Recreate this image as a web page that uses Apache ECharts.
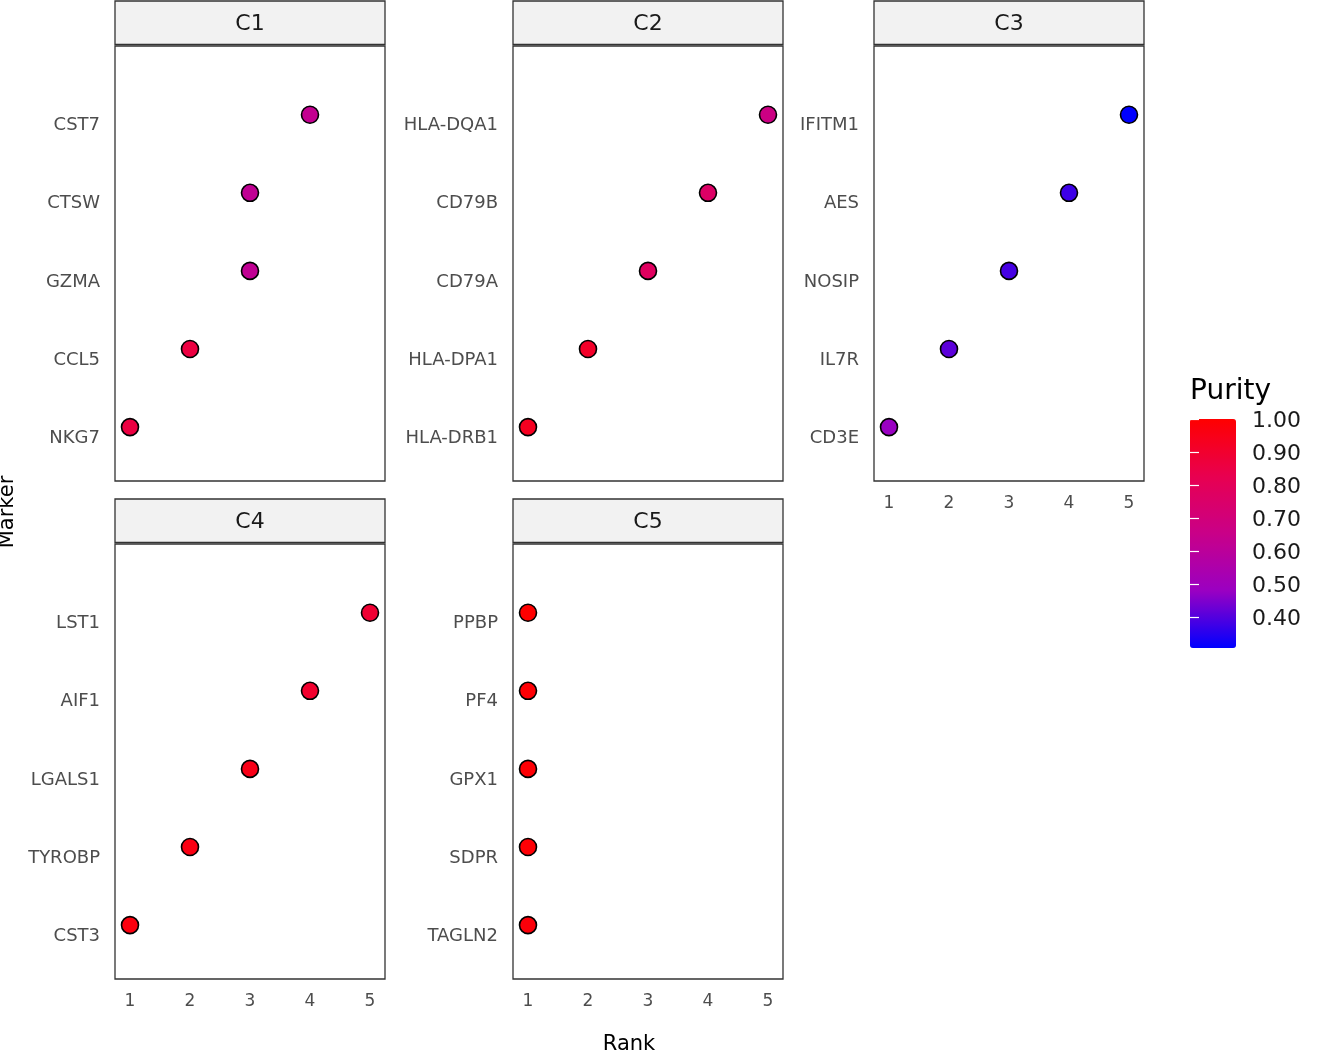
<!DOCTYPE html>
<html><head><meta charset="utf-8">
<script src="https://cdn.jsdelivr.net/npm/echarts@6/dist/echarts.min.js"></script>
<style>html,body{margin:0;padding:0;background:#fff}#c{width:1344px;height:1056px}</style>
</head><body><div id="c"></div><script>
// ---- data (bottom-to-top order within each panel) ----
const clusters = ['C1', 'C2', 'C3', 'C4', 'C5'];
const markersC1 = ['NKG7', 'CCL5', 'GZMA', 'CTSW', 'CST7'];
const rankC1 = [1, 2, 3, 3, 4];
const purityC1 = [0.86, 0.86, 0.62, 0.62, 0.63];
const markersC2 = ['HLA-DRB1', 'HLA-DPA1', 'CD79A', 'CD79B', 'HLA-DQA1'];
const rankC2 = [1, 2, 3, 4, 5];
const purityC2 = [0.93, 0.91, 0.78, 0.76, 0.67];
const markersC3 = ['CD3E', 'IL7R', 'NOSIP', 'AES', 'IFITM1'];
const rankC3 = [1, 2, 3, 4, 5];
const purityC3 = [0.48, 0.41, 0.385, 0.375, 0.306];
const markersC4 = ['CST3', 'TYROBP', 'LGALS1', 'AIF1', 'LST1'];
const rankC4 = [1, 2, 3, 4, 5];
const purityC4 = [0.97, 0.96, 0.95, 0.90, 0.89];
const markersC5 = ['TAGLN2', 'SDPR', 'GPX1', 'PF4', 'PPBP'];
const rankC5 = [1, 1, 1, 1, 1];
const purityC5 = [0.98, 0.99, 0.99, 0.99, 1.00];
const rankTicks = [1, 2, 3, 4, 5];
const legendTicks = [0.40, 0.50, 0.60, 0.70, 0.80, 0.90, 1.00];
const legendTitle = 'Purity';
const xTitle = 'Rank';
const yTitle = 'Marker';

const markers = [markersC1, markersC2, markersC3, markersC4, markersC5];
const ranks = [rankC1, rankC2, rankC3, rankC4, rankC5];
const purities = [purityC1, purityC2, purityC3, purityC4, purityC5];
const allP = [].concat(...purities);
const pMin = Math.min(...allP), pMax = Math.max(...allP);

// ---- layout ----
const FONT = 'DejaVu Sans';
const panelLeft = [115, 513, 874, 115, 513];
const panelTop = [46, 46, 46, 544, 544];
const panelW = 270, panelH = 435, stripH = 43.5, stripGap = 1.5;
const showX = [false, false, true, true, true];
const gradColors = ['#0000FF', '#9A00C2', '#C90088', '#E80050', '#FF0000'];

const grids = [], xAxes = [], yAxes = [], series = [], graphics = [];
clusters.forEach((c, i) => {
  grids.push({left: panelLeft[i], top: panelTop[i], width: panelW, height: panelH,
    show: true, borderColor: '#333333', borderWidth: 1.3, backgroundColor: '#fff',
    containLabel: false, outerBoundsMode: 'none'});
  xAxes.push({type: 'value', gridIndex: i, min: 0.75, max: 5.25,
    axisLine: {show: false}, axisTick: {show: false}, splitLine: {show: false},
    axisLabel: {show: showX[i], customValues: rankTicks, margin: 14,
      color: '#4D4D4D', fontSize: 17, fontFamily: FONT}});
  const mk = markers[i];
  yAxes.push({type: 'value', gridIndex: i, min: -0.69, max: 4.88,
    axisLine: {show: false}, axisTick: {show: false}, splitLine: {show: false},
    axisLabel: {show: true, customValues: [0, 1, 2, 3, 4], margin: 15,
      color: '#4D4D4D', fontSize: 18, fontFamily: FONT, verticalAlign: 'top', lineHeight: 22,
      formatter: v => mk[Math.round(v)] || ''}});
  series.push({type: 'scatter', xAxisIndex: i, yAxisIndex: i,
    symbolSize: 17, itemStyle: {borderColor: '#000', borderWidth: 1.6, opacity: 1},
    emphasis: {disabled: true},
    data: ranks[i].map((r, k) => [r, k, purities[i][k]])});
  graphics.push({type: 'rect', shape: {x: panelLeft[i], y: panelTop[i] - stripGap - stripH, width: panelW, height: stripH},
    style: {fill: '#F2F2F2', stroke: '#333333', lineWidth: 1.3}});
  graphics.push({type: 'text', x: panelLeft[i] + panelW / 2, y: panelTop[i] - stripGap - stripH / 2 + 1.5,
    style: {text: c, fill: '#1A1A1A', font: '22px "' + FONT + '"', textAlign: 'center', textVerticalAlign: 'middle'}});
});

// legend colourbar axes
const LG = {left: 1190, top: 419, width: 46, height: 229};
const li = clusters.length;
grids.push({left: LG.left, top: LG.top, width: LG.width, height: LG.height, show: false, containLabel: false, outerBoundsMode: 'none', z: 10});
xAxes.push({type: 'value', gridIndex: li, show: false, min: 0, max: 1});
yAxes.push({type: 'value', gridIndex: li, min: pMin, max: pMax, position: 'right', z: 10,
  axisLine: {show: false}, splitLine: {show: false},
  axisTick: {show: true, inside: true, length: 9, customValues: legendTicks, lineStyle: {color: '#ffffff', width: 1.2}},
  axisLabel: {customValues: legendTicks, margin: 16, color: '#1A1A1A', fontSize: 22, fontFamily: FONT,
    verticalAlign: 'top', lineHeight: 4, formatter: v => v.toFixed(2)}});
yAxes.push({type: 'value', gridIndex: li, min: pMin, max: pMax, position: 'left', z: 10,
  axisLine: {show: false}, splitLine: {show: false},
  axisTick: {show: true, inside: true, length: 9, customValues: legendTicks, lineStyle: {color: '#ffffff', width: 1.2}},
  axisLabel: {show: false}});

graphics.push({type: 'text', x: 1190, y: 392, style: {text: legendTitle, fill: '#000', font: '28px "' + FONT + '"', textAlign: 'left', textVerticalAlign: 'middle'}});
graphics.push({type: 'text', x: 629, y: 1045, style: {text: xTitle, fill: '#000', font: '21px "' + FONT + '"', textAlign: 'center', textVerticalAlign: 'middle'}});
graphics.push({type: 'text', x: 8, y: 512, rotation: Math.PI / 2, style: {text: yTitle, fill: '#000', font: '21px "' + FONT + '"', textAlign: 'center', textVerticalAlign: 'middle'}});

const chart = echarts.init(document.getElementById('c'), null, {renderer: 'canvas'});
chart.setOption({
  animation: false,
  backgroundColor: '#ffffff',
  grid: grids, xAxis: xAxes, yAxis: yAxes, series: series,
  visualMap: {type: 'continuous', min: pMin, max: pMax, dimension: 2,
    seriesIndex: clusters.map((c, i) => i),
    inRange: {color: gradColors}, orient: 'vertical',
    left: LG.left, top: LG.top, itemWidth: LG.width, itemHeight: LG.height,
    padding: 0, calculable: false, text: null, showLabel: false, hoverLink: false, realtime: false, z: 1},
  graphic: graphics
});
</script></body></html>
